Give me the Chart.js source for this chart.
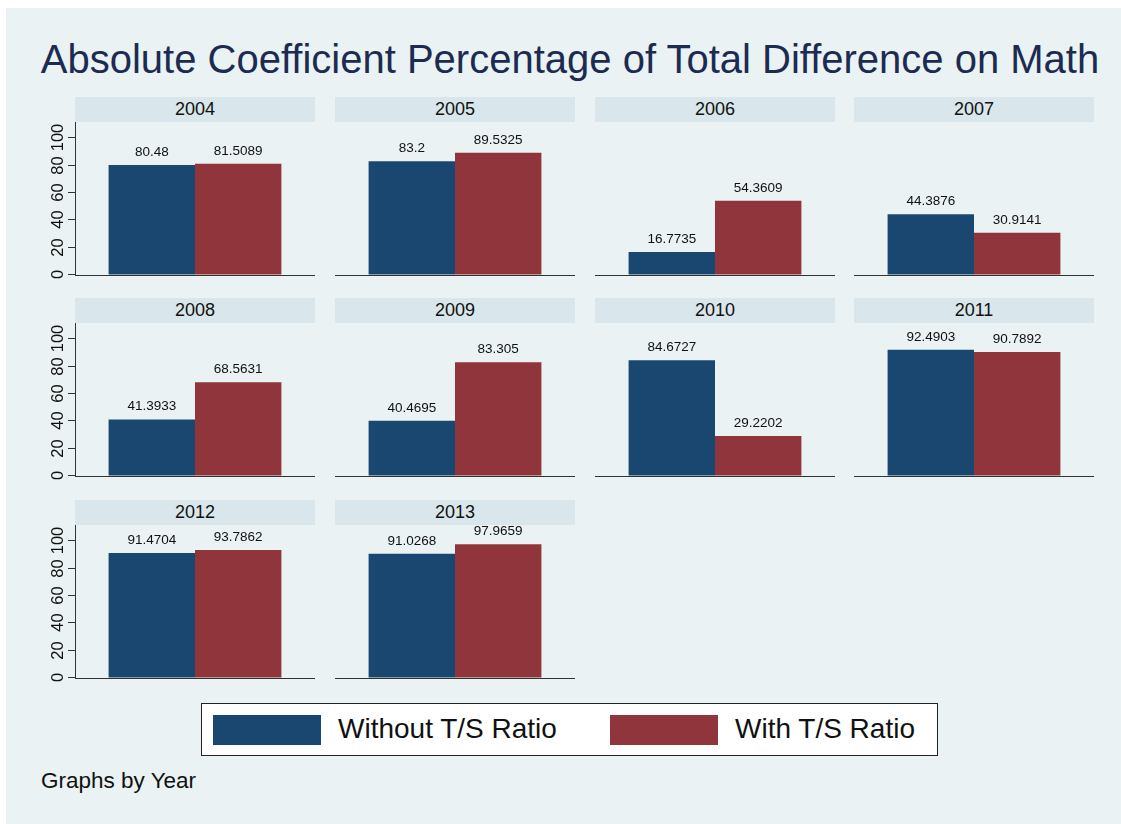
<!DOCTYPE html>
<html>
<head>
<meta charset="utf-8">
<script src="https://cdn.jsdelivr.net/npm/chart.js@4/dist/chart.umd.min.js"></script>
<style>
  body { margin: 0; background: #fff; font-family: "Liberation Sans", Arial, sans-serif; }
  #bg { position: absolute; left: 6px; top: 8px; width: 1115px; height: 816px; background: #eaf2f3; }
  #title { position: absolute; left: 0; width: 1140px; top: 36px; text-align: center; font-size: 40px; color: #1c2b51; line-height: 46px; white-space: nowrap; }
  .strip { position: absolute; width: 240px; height: 25px; background: #d9e6eb; font-size: 18px; line-height: 25px; text-align: center; color: #111; }
  .panel { position: absolute; }
  #legend { position: absolute; left: 201px; top: 703px; width: 735px; height: 51px; background: #fff; border: 1.5px solid #222; }
  .sw { position: absolute; top: 11px; width: 108px; height: 30px; }
  .lt { position: absolute; top: 8px; font-size: 28px; line-height: 34px; color: #111; white-space: nowrap; }
  #note { position: absolute; left: 41px; top: 768px; font-size: 22.5px; color: #111; white-space: nowrap; }
</style>
</head>
<body>
<div id="bg"></div>
<div id="title">Absolute Coefficient Percentage of Total Difference on Math</div>
<div id="panels"></div>
<div id="legend">
  <div class="sw" style="left:11px; background:#1a476f"></div>
  <div class="lt" style="left:136px">Without T/S Ratio</div>
  <div class="sw" style="left:408px; background:#90353b"></div>
  <div class="lt" style="left:533px">With T/S Ratio</div>
</div>
<div id="note">Graphs by Year</div>
<script>
// data
const years = ['2004', '2005', '2006', '2007', '2008', '2009', '2010', '2011', '2012', '2013'];
const withoutTS = [80.48, 83.2, 16.7735, 44.3876, 41.3933, 40.4695, 84.6727, 92.4903, 91.4704, 91.0268];
const withTS = [81.5089, 89.5325, 54.3609, 30.9141, 68.5631, 83.305, 29.2202, 90.7892, 93.7862, 97.9659];
const seriesNames = ['Without T/S Ratio', 'With T/S Ratio'];
const yTicks = [0, 20, 40, 60, 80, 100];

const colX = [75, 335, 595, 854];
const rowY = [97, 298, 500];

// numbers above the bars
const valueLabels = {
    id: 'valueLabels',
    afterDatasetsDraw(chart) {
        const ctx = chart.ctx;
        ctx.save();
        ctx.font = '13.5px "Liberation Sans", Arial, sans-serif';
        ctx.fillStyle = '#111';
        ctx.textAlign = 'center';
        chart.data.datasets.forEach((ds, i) => {
            chart.getDatasetMeta(i).data.forEach((bar, j) => {
                ctx.fillText(String(ds.data[j]), bar.x, bar.y - 9);
            });
        });
        ctx.restore();
    }
};

// rotated y labels + tick marks, first column only
const yLabels = {
    id: 'yLabels',
    afterDraw(chart) {
        const ctx = chart.ctx;
        const y = chart.scales.y;
        const left = chart.chartArea.left;
        ctx.save();
        ctx.strokeStyle = '#333';
        ctx.lineWidth = 1;
        ctx.fillStyle = '#111';
        ctx.font = '16.5px "Liberation Sans", Arial, sans-serif';
        yTicks.forEach(v => {
            const py = Math.round(y.getPixelForValue(v)) - 0.5;
            ctx.beginPath();
            ctx.moveTo(left - 7, py);
            ctx.lineTo(left, py);
            ctx.stroke();
            ctx.save();
            ctx.translate(left - 12, py);
            ctx.rotate(-Math.PI / 2);
            ctx.textAlign = 'center';
            ctx.fillText(String(v), 0, 0);
            ctx.restore();
        });
        ctx.restore();
    }
};

const holder = document.getElementById('panels');

years.forEach((yr, i) => {
    const col = i % 4, row = Math.floor(i / 4);
    const x = colX[col], top = rowY[row];

    const strip = document.createElement('div');
    strip.className = 'strip';
    strip.style.left = x + 'px';
    strip.style.top = top + 'px';
    strip.textContent = yr;
    holder.appendChild(strip);

    const padLeft = col === 0 ? 45 : 0;
    const box = document.createElement('div');
    box.className = 'panel';
    box.style.left = (x - padLeft) + 'px';
    box.style.top = (top + 25) + 'px';
    const cv = document.createElement('canvas');
    cv.width = 240 + padLeft;
    cv.height = 163;
    box.appendChild(cv);
    holder.appendChild(box);

    new Chart(cv.getContext('2d'), {
        type: 'bar',
        data: {
            labels: [yr],
            datasets: [{
                label: seriesNames[0],
                data: [withoutTS[i]],
                backgroundColor: '#1a476f',
                borderWidth: 0
            }, {
                label: seriesNames[1],
                data: [withTS[i]],
                backgroundColor: '#90353b',
                borderWidth: 0
            }]
        },
        options: {
            responsive: false,
            animation: false,
            layout: { padding: { left: padLeft, top: 0, right: 0, bottom: 10 } },
            datasets: { bar: { categoryPercentage: 0.72, barPercentage: 1.0 } },
            scales: {
                x: { display: false },
                y: {
                    min: 0,
                    max: 112,
                    ticks: { display: false, stepSize: 20, includeBounds: false },
                    grid: {
                        drawTicks: false,
                        color: c => c.tick && c.tick.value === 0 ? '#333' : (c.tick && c.tick.value % 20 === 0 ? '#eaf2f3' : 'rgba(0,0,0,0)'),
                        lineWidth: 1
                    },
                    border: { display: col === 0, color: '#333', width: 1 }
                }
            },
            plugins: {
                legend: { display: false },
                tooltip: { enabled: false }
            }
        },
        plugins: col === 0 ? [valueLabels, yLabels] : [valueLabels]
    });
});
</script>
</body>
</html>
